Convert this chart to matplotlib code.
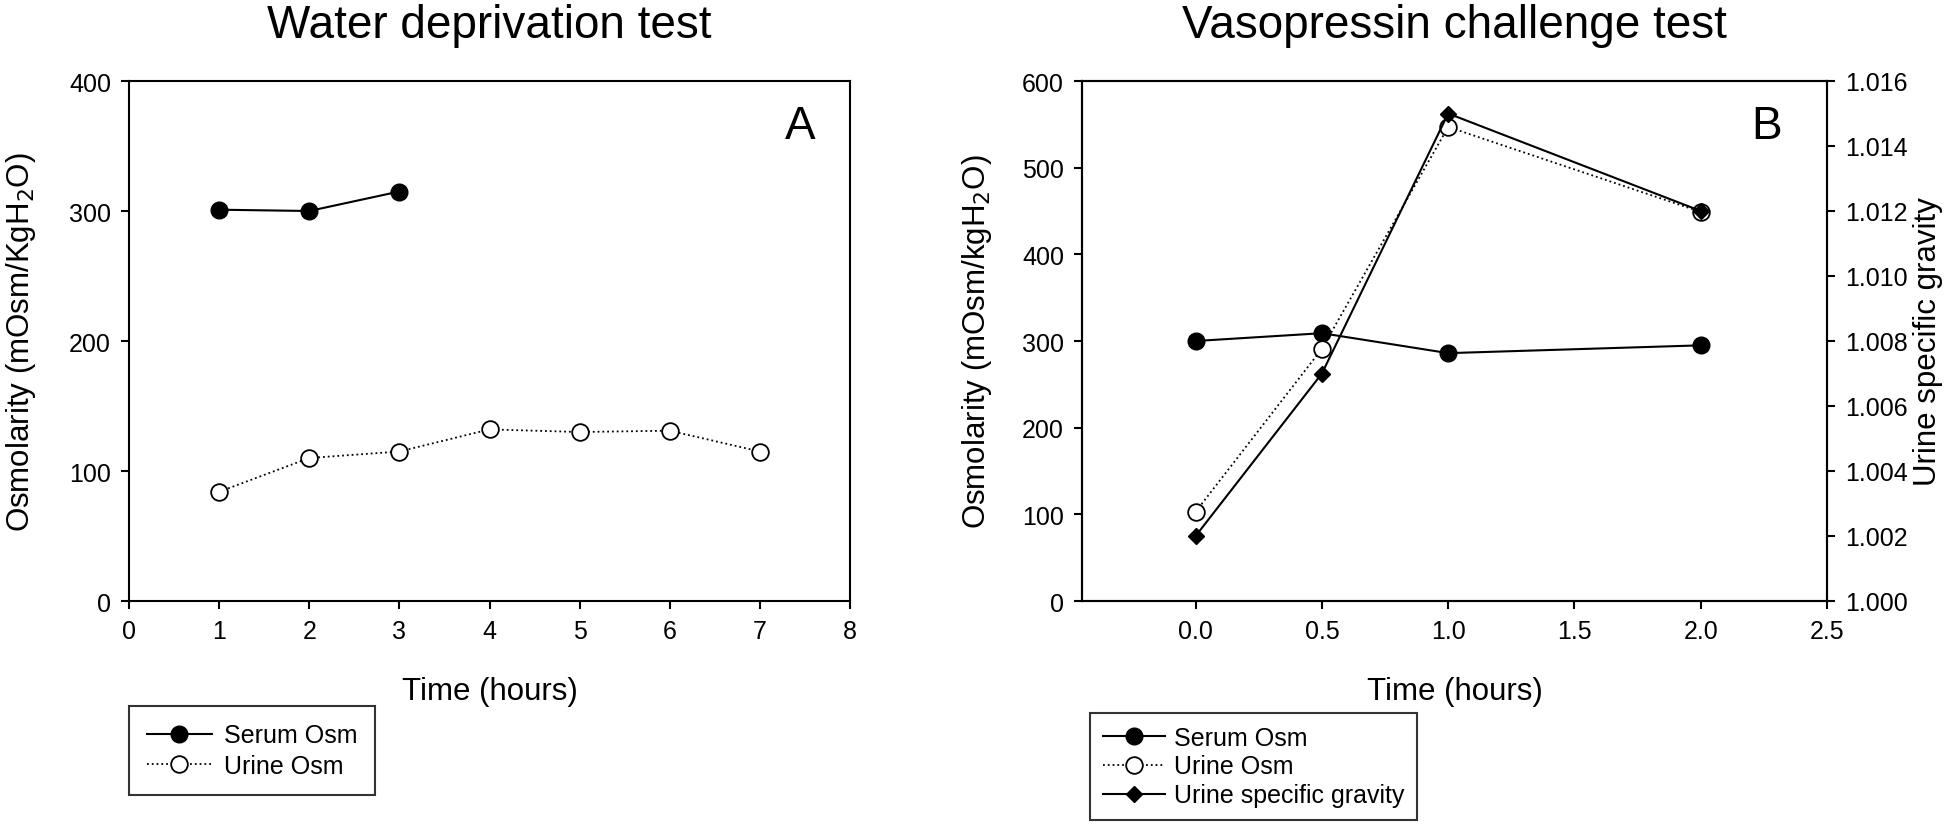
import matplotlib
matplotlib.use('Agg')
import matplotlib.pyplot as plt

plt.rcParams['font.family'] = ['Liberation Sans', 'DejaVu Sans']

# panel A - water deprivation test
a_serum_t = [1, 2, 3]
a_serum_osm = [301, 300, 315]
a_urine_t = [1, 2, 3, 4, 5, 6, 7]
a_urine_osm = [84, 110, 115, 132, 130, 131, 115]

# panel B - vasopressin challenge test
b_t = [0.0, 0.5, 1.0, 2.0]
b_serum_osm = [300, 309, 286, 295]
b_urine_osm = [103, 291, 547, 449]
b_urine_sg = [1.002, 1.007, 1.015, 1.012]

a_xticks = [0, 1, 2, 3, 4, 5, 6, 7, 8]
a_yticks = [0, 100, 200, 300, 400]
b_xticks = [0.0, 0.5, 1.0, 1.5, 2.0, 2.5]
b_yticks = [0, 100, 200, 300, 400, 500, 600]
b_sgticks = [1.000, 1.002, 1.004, 1.006, 1.008, 1.010, 1.012, 1.014, 1.016]

W, H = 1946, 829
fig = plt.figure(figsize=(W / 100, H / 100), dpi=100)

def box(l, r, t, b):
    return [l / W, 1 - b / H, (r - l) / W, (b - t) / H]

tickfs = 18
labfs = 22.5
titlefs = 33
legfs = 18
lw_spine = 1.5

def style(ax):
    for s in ax.spines.values():
        s.set_linewidth(lw_spine)
    ax.tick_params(direction='out', length=6, width=1.5, labelsize=tickfs, pad=7)

# ---- A ----
axA = fig.add_axes(box(129, 850, 82, 602))
style(axA)
l1, = axA.plot(a_serum_t, a_serum_osm, '-', color='black', lw=1.5, marker='o',
               ms=12, mfc='black', mec='black', label='Serum Osm')
l2, = axA.plot(a_urine_t, a_urine_osm, ':', color='black', lw=1.3, marker='o',
               ms=12, mfc='white', mec='black', mew=1.3, label='Urine Osm')
axA.set_xlim(0, 8)
axA.set_ylim(0, 400)
axA.set_xticks(a_xticks)
axA.set_yticks(a_yticks)
axA.set_xlabel('Time (hours)', fontsize=labfs, labelpad=24)
axA.set_ylabel('Osmolarity (mOsm/KgH$_2$O)', fontsize=labfs, labelpad=22)
axA.set_title('Water deprivation test', fontsize=titlefs, pad=32)
axA.text(0.952, 0.955, 'A', transform=axA.transAxes, fontsize=33, ha='right', va='top')
legA = fig.legend(handles=[l1, l2], loc='upper left',
                  bbox_to_anchor=(129 / W, 1 - 707 / H), borderaxespad=0,
                  fontsize=legfs, frameon=True, fancybox=False, edgecolor='black',
                  handlelength=2.6, handletextpad=0.5, borderpad=0.7, labelspacing=0.25)
legA.get_frame().set_linewidth(1.5)

# ---- B ----
axB = fig.add_axes(box(1082, 1827, 82, 602))
style(axB)
m1, = axB.plot(b_t, b_serum_osm, '-', color='black', lw=1.5, marker='o',
               ms=12, mfc='black', mec='black', label='Serum Osm')
m2, = axB.plot(b_t, b_urine_osm, ':', color='black', lw=1.3, marker='o',
               ms=12, mfc='white', mec='black', mew=1.3, label='Urine Osm')
axB.set_xlim(-0.45, 2.5)
axB.set_ylim(0, 600)
axB.set_xticks(b_xticks)
axB.set_xticklabels(['%.1f' % v for v in b_xticks])
axB.set_yticks(b_yticks)
axB.set_xlabel('Time (hours)', fontsize=labfs, labelpad=24)
axB.set_ylabel('Osmolarity (mOsm/kgH$_2$O)', fontsize=labfs, labelpad=20)
axB.set_title('Vasopressin challenge test', fontsize=titlefs, pad=32)
axB.text(0.94, 0.955, 'B', transform=axB.transAxes, fontsize=33, ha='right', va='top')

axR = axB.twinx()
style(axR)
m3, = axR.plot(b_t, b_urine_sg, '-', color='black', lw=1.5, marker='D',
               ms=8, mfc='black', mec='black', label='Urine specific gravity')
axR.set_ylim(1.000, 1.016)
axR.set_yticks(b_sgticks)
axR.set_yticklabels(['%.3f' % v for v in b_sgticks])
axR.set_ylabel('Urine specific gravity', fontsize=labfs, labelpad=4)

legB = fig.legend(handles=[m1, m2, m3], loc='upper left',
                  bbox_to_anchor=(1090 / W, 1 - 714 / H), borderaxespad=0,
                  fontsize=legfs, frameon=True, fancybox=False, edgecolor='black',
                  handlelength=2.5, handletextpad=0.35, borderpad=0.5, labelspacing=0.2)
legB.get_frame().set_linewidth(1.5)

fig.savefig('out.png', dpi=100)
